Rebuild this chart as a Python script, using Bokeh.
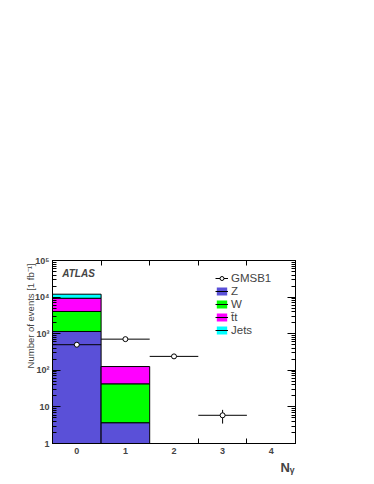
import numpy as np
from bokeh.plotting import figure
from bokeh.models import (LogAxis, LinearAxis, FixedTicker, LogTicker, Range1d,
                          Label, Legend, LegendItem, ColumnDataSource, Title)
from bokeh.embed import file_html
from bokeh.resources import INLINE

# ---- data ----
n_gamma = [0, 1, 2, 3, 4]
bkg_z = [1150, 3.7, 0, 0, 0]
bkg_w = [2900, 39, 0, 0, 0]
bkg_tt = [5250, 84, 0, 0, 0]
bkg_jets = [2700, 0, 0, 0, 0]
gmsb1 = [500, 710, 240, 5.9, 0]
gmsb1_err = [22, 27, 15, 2.4, 0]
x_tick_labels = ["0", "1", "2", "3", "4"]
y_tick_labels = {1: "1", 10: "10", 100: "10²", 1000: "10³", 10000: "10⁴", 100000: "10⁵"}
process_names = ["Z", "W", "t\u0304t", "Jets"]
process_colors = ["#5a50d8", "#00ff00", "#ff00ff", "#00ffff"]

FONT = "Liberation Sans"

p = figure(width=365, height=475, output_backend="svg", toolbar_location=None,
           y_axis_type="log", x_range=Range1d(-0.5, 4.5), y_range=Range1d(1, 1e5),
           min_border_left=52, min_border_right=70, min_border_top=260,
           min_border_bottom=32)
p.xgrid.visible = False
p.ygrid.visible = False
p.outline_line_color = "black"
p.outline_line_width = 1

# ---- stacked backgrounds ----
x = np.array(n_gamma, dtype=float)
stack = [np.array(v, dtype=float) for v in (bkg_z, bkg_w, bkg_tt, bkg_jets)]
cum = np.zeros(len(x))
for vals, col in zip(stack, process_colors):
    bottom = np.where(cum > 0, cum, 1e-2)
    cum = cum + vals
    m = vals > 0
    src = ColumnDataSource(dict(left=x[m] - 0.5, right=x[m] + 0.5,
                                bottom=bottom[m], top=cum[m]))
    p.quad(left="left", right="right", bottom="bottom", top="top", source=src,
           fill_color=col, line_color="black", line_width=1)

# ---- GMSB1 signal points ----
g = np.array(gmsb1, dtype=float)
ge = np.array(gmsb1_err, dtype=float)
m = g > 0
sig = ColumnDataSource(dict(x=x[m], y=g[m], x0=x[m] - 0.5, x1=x[m] + 0.5,
                            lo=g[m] - ge[m], hi=g[m] + ge[m]))
p.segment(x0="x0", y0="y", x1="x1", y1="y", source=sig, line_color="black", line_width=1)
p.segment(x0="x", y0="lo", x1="x", y1="hi", source=sig, line_color="black", line_width=1)
p.scatter(x="x", y="y", source=sig, marker="circle", size=5, fill_color="white",
          line_color="black", line_width=1)

# ---- axes ----
xa = p.xaxis[0]
xa.ticker = FixedTicker(ticks=n_gamma, minor_ticks=[2.5, 3.5])
xa.major_label_overrides = {float(v): s for v, s in zip(n_gamma, x_tick_labels)}
xa.major_tick_in = 0
xa.major_tick_out = 0
xa.minor_tick_in = 5
xa.minor_tick_out = 0
xa.major_label_text_font = FONT
xa.major_label_text_font_style = "bold"
xa.major_label_text_font_size = "9px"
xa.major_label_standoff = 4
xa.axis_line_color = "black"

ya = p.yaxis[0]
ya.ticker = LogTicker(num_minor_ticks=10)
ya.major_label_overrides = {float(k): v for k, v in y_tick_labels.items()}
ya.major_tick_in = 8
ya.major_tick_out = 0
ya.minor_tick_in = 4
ya.minor_tick_out = 0
ya.major_label_text_font = FONT
ya.major_label_text_font_style = "bold"
ya.major_label_text_font_size = "9px"
ya.major_label_standoff = 3

top_axis = LinearAxis(ticker=FixedTicker(ticks=[0.5, 1.5, 2.5, 3.5]),
                      major_tick_in=5, major_tick_out=0, minor_tick_in=0, minor_tick_out=0,
                      major_label_text_color=None)
p.add_layout(top_axis, "above")
right_axis = LogAxis(ticker=LogTicker(num_minor_ticks=10),
                     major_tick_in=8, major_tick_out=0, minor_tick_in=4, minor_tick_out=0,
                     major_label_text_color=None)
p.add_layout(right_axis, "right")

# ---- axis titles (as side titles, aligned to the axis end like ROOT) ----
p.add_layout(Title(text="Number of events [1 fb\u207b\u00b9]", align="right", offset=3,
                   text_font=FONT, text_font_size="9.5px", text_font_style="normal",
                   standoff=-6), "left")
p.add_layout(Title(text="N\u1d67", align="right", offset=1,
                   text_font=FONT, text_font_size="13px", text_font_style="bold",
                   standoff=2), "below")

p.add_layout(Label(x=-0.3, y=44000, text="ATLAS", text_font=FONT,
                   text_font_style="bold italic", text_font_size="10px",
                   text_baseline="middle"))

# ---- legend ----
leg_line = p.line(x=[0], y=[1e-3], line_color="black", line_width=1)
leg_dot = p.scatter(x=[0], y=[1e-3], marker="circle", size=5, fill_color="white",
                    line_color="black")
items = [LegendItem(label="GMSB1", renderers=[leg_line, leg_dot])]
for name, col in zip(process_names, process_colors):
    box = p.quad(left=[0], right=[0], bottom=[1e-3], top=[1e-3], fill_color=col, line_alpha=0)
    ln = p.line(x=[0], y=[1e-3], line_color="black", line_width=1)
    items.append(LegendItem(label=name, renderers=[box, ln]))
legend = Legend(items=items, location=(163, 107), padding=0, spacing=0, margin=0,
                label_standoff=3, glyph_width=13, glyph_height=10, label_height=13,
                label_text_font=FONT, label_text_font_size="11.5px",
                border_line_alpha=0, background_fill_alpha=0)
p.add_layout(legend)

open("out.html", "w").write(file_html(p, INLINE))
